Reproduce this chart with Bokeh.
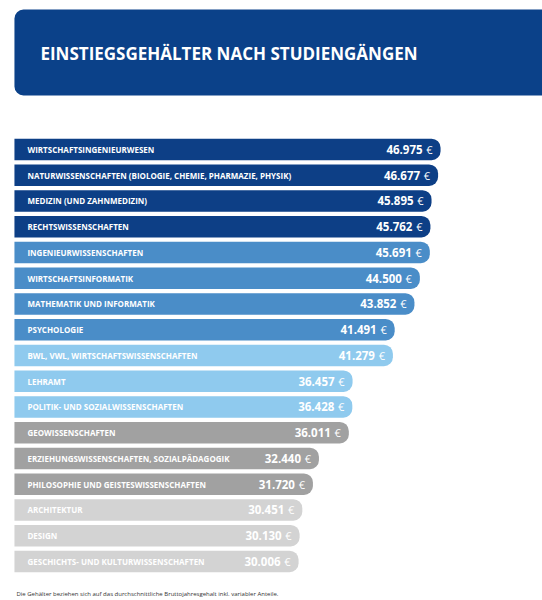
from bokeh.plotting import figure
from bokeh.models import ColumnDataSource, Range1d, Label
from bokeh.core.properties import value
from bokeh.embed import file_html
from bokeh.resources import INLINE

# Starting salaries by field of study (EUR per year)
fields = [
    "WIRTSCHAFTSINGENIEURWESEN",
    "NATURWISSENSCHAFTEN (BIOLOGIE, CHEMIE, PHARMAZIE, PHYSIK)",
    "MEDIZIN (UND ZAHNMEDIZIN)",
    "RECHTSWISSENSCHAFTEN",
    "INGENIEURWISSENSCHAFTEN",
    "WIRTSCHAFTSINFORMATIK",
    "MATHEMATIK UND INFORMATIK",
    "PSYCHOLOGIE",
    "BWL, VWL, WIRTSCHAFTSWISSENSCHAFTEN",
    "LEHRAMT",
    "POLITIK- UND SOZIALWISSENSCHAFTEN",
    "GEOWISSENSCHAFTEN",
    "ERZIEHUNGSWISSENSCHAFTEN, SOZIALPÄDAGOGIK",
    "PHILOSOPHIE UND GEISTESWISSENSCHAFTEN",
    "ARCHITEKTUR",
    "DESIGN",
    "GESCHICHTS- UND KULTURWISSENSCHAFTEN",
]
salaries = [46975, 46677, 45895, 45762, 45691, 44500, 43852, 41491, 41279,
            36457, 36428, 36011, 32440, 31720, 30451, 30130, 30006]
groups = ["top"] * 4 + ["upper"] * 4 + ["middle"] * 3 + ["lower"] * 3 + ["bottom"] * 3

group_colors = {
    "top": "#0d3f86",
    "upper": "#4a8dc8",
    "middle": "#8fcaee",
    "lower": "#a1a1a1",
    "bottom": "#d3d3d3",
}

title_text = "EINSTIEGSGEHÄLTER NACH STUDIENGÄNGEN"
footnote = ("Die Gehälter beziehen sich auf das durchschnittliche "
            "Bruttojahresgehalt inkl. variabler Anteile.")

W, H = 542, 600
BASE = -3950          # common left edge of all bars
X0, X1 = -5617, 59155
Y_TOP, Y_BOTTOM = -5.786, 17.515

ranks = list(range(len(fields)))
source = ColumnDataSource(dict(
    y=ranks,
    field=fields,
    salary=salaries,
    base=[BASE] * len(fields),
    color=[group_colors[g] for g in groups],
    amount=[f"{s:,}".replace(",", ".") for s in salaries],
    euro=["€"] * len(fields),
))

p = figure(width=W, height=H, output_backend="svg", toolbar_location=None,
           x_range=Range1d(X0, X1), y_range=Range1d(Y_BOTTOM, Y_TOP),
           min_border=0, outline_line_color=None, background_fill_color="white",
           border_fill_color="white")
p.axis.visible = False
p.grid.visible = False

# header banner
p.quad(left=[BASE], right=[X1 + 2000], top=[-5.436], bottom=[-2.097],
       fill_color="#0b4189", line_color=None, border_radius=(9, 0, 0, 9))
p.add_layout(Label(x=BASE, y=-3.74, x_offset=26, text=title_text,
                   text_font="Open Sans", text_font_style="bold",
                   text_font_size="17px", text_color="white",
                   text_baseline="middle"))

# bars with rounded right ends
p.hbar(y="y", left="base", right="salary", height=0.835, source=source,
       fill_color="color", line_color=None, border_radius=(0, 9, 9, 0))

# field names inside the bars
p.text(x="base", y="y", text="field", source=source, x_offset=13,
       text_font=value("Open Sans"), text_font_style="bold",
       text_font_size="8px", text_color="white", text_baseline="middle")

# salary figures at the bar ends
p.text(x="salary", y="y", text="amount", source=source, x_offset=-18,
       text_font=value("Open Sans"), text_font_style="bold",
       text_font_size="11.5px", text_color="white", text_align="right",
       text_baseline="middle")
p.text(x="salary", y="y", text="euro", source=source, x_offset=-8,
       text_font=value("Open Sans"), text_font_size="11px",
       text_color="white", text_align="right", text_baseline="middle")

p.add_layout(Label(x=BASE, y=17.28, x_offset=2, text=footnote,
                   text_font="Open Sans", text_font_size="6px",
                   text_color="#333333", text_baseline="middle"))

open("out.html", "w").write(file_html(p, INLINE))
